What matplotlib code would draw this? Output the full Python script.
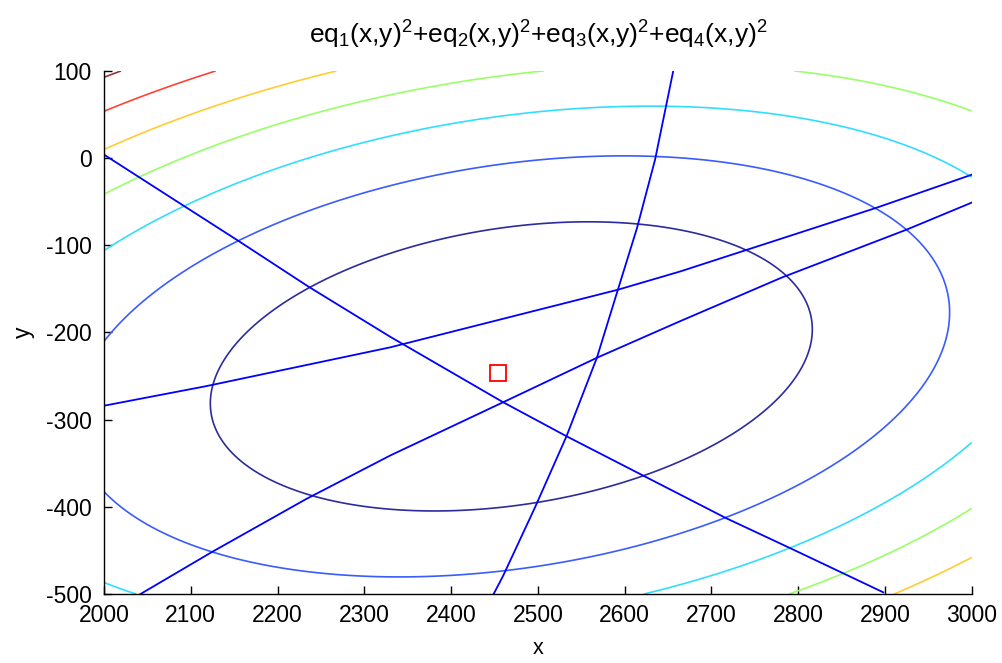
import numpy as np
import matplotlib
matplotlib.use("Agg")
import matplotlib.pyplot as plt

plt.rcParams['font.family'] = ['Liberation Sans', 'DejaVu Sans']
plt.rcParams['mathtext.fontset'] = 'custom'
plt.rcParams['mathtext.rm'] = 'Liberation Sans'
plt.rcParams['mathtext.it'] = 'Liberation Sans'
plt.rcParams['axes.unicode_minus'] = False

# ---- contour traces (level index -> points) ----
lvl1_x = [2116, 2235, 2335, 2533, 2675, 2781, 2811, 2740, 2664, 2385, 2233.5]
lvl1_y = [-280, -147, -109, -77.5, -90, -137, -200, -296, -368, -412.5, -391]
lvl2_x = [2000, 2155, 2585, 2664, 2890, 2975, 2894, 2717, 2335, 2124, 2000]
lvl2_y = [-210, -95, -2, -4, -57, -166, -322.5, -413, -485, -452, -376]
lvl3_x = [2000, 2090, 2640, 3000, 3000, 2790, 2638, 2051, 2000]
lvl3_y = [-105, -55, 55, -15, -322.5, -446.5, -500, -500, -477]
lvl4_x = [2000, 2039.5, 2387, 2531, 2808, 3000, 3000, 2792]
lvl4_y = [-42, -20.3, 80, 100, 100, 63, -397, -500]
lvl5_x = [2000, 2270, 3000, 2907.5]
lvl5_y = [9.5, 100, -452, -500]
lvl6_x = [2000, 2126]
lvl6_y = [53.4, 100]
lvl7_x = [2000, 2016]
lvl7_y = [95.4, 100]
levels = [1, 2, 3, 4, 5, 6, 7]
level_colors = ['#2c2c9c', '#3a5cff', '#33ddff', '#99ff66', '#ffcc33', '#ff4433', '#993333']

# ---- zero curves of eq1..eq4 ----
eqA_x = [2000, 2155, 2235, 2330, 2460, 2533, 2625, 2717, 2790, 2898]
eqA_y = [4, -95, -147, -205, -280, -319, -366, -413, -447, -498]
eqB_x = [2000, 2118, 2330, 2592, 2664, 2890, 3000]
eqB_y = [-284, -261.5, -217, -151, -130, -57, -19]
eqC_x = [2042, 2124, 2233, 2330, 2460, 2568, 2664, 2781, 2925, 3000]
eqC_y = [-500, -452, -391, -341, -280, -229, -187, -137, -82, -51]
eqD_x = [2449, 2460, 2496.5, 2533, 2568, 2592.5, 2614, 2635, 2656]
eqD_y = [-500, -479, -401, -319, -229, -150, -81, -2, 100]

# estimated solution
sol_x = [2454]
sol_y = [-246.6]

# ---- quadratic surface through the traced contour points ----
pts = []
for k, (xs, ys) in enumerate([(lvl1_x, lvl1_y), (lvl2_x, lvl2_y), (lvl3_x, lvl3_y),
                              (lvl4_x, lvl4_y), (lvl5_x, lvl5_y), (lvl6_x, lvl6_y),
                              (lvl7_x, lvl7_y)]):
    for x, y in zip(xs, ys):
        pts.append((x, y, levels[k]))
pts = np.array(pts, dtype=float)


def design(x, y):
    u = (x - 2500.0) / 500.0
    v = (y + 200.0) / 300.0
    return np.stack([u * u, u * v, v * v, u, v, np.ones_like(u)], axis=-1)


coef, *_ = np.linalg.lstsq(design(pts[:, 0], pts[:, 1]), pts[:, 2], rcond=None)

gx = np.linspace(2000, 3000, 401)
gy = np.linspace(-500, 100, 301)
X, Y = np.meshgrid(gx, gy)
Z = design(X, Y) @ coef

fig = plt.figure(figsize=(10.02, 6.63), dpi=100)
ax = fig.add_axes([0.1038, 0.104, 0.866, 0.789])

ax.contour(X, Y, Z, levels=levels, colors=level_colors, linewidths=1.2)
for xs, ys in [(eqA_x, eqA_y), (eqB_x, eqB_y), (eqC_x, eqC_y), (eqD_x, eqD_y)]:
    ax.plot(xs, ys, color='#0000ff', lw=1.3)
ax.plot(sol_x, sol_y, 's', ms=11.5, mfc='none', mec='#ff0000', mew=1.3)

ax.set_xlim(2000, 3000)
ax.set_ylim(-500, 100)
ax.set_xticks(np.arange(2000, 3001, 100))
ax.set_yticks(np.arange(-500, 101, 100))
for s in ['top', 'right']:
    ax.spines[s].set_visible(False)
for s in ['left', 'bottom']:
    ax.spines[s].set_linewidth(1.0)
ax.tick_params(direction='in', length=5.5, width=1.0, labelsize=16.5)
ax.tick_params(axis='y', pad=9)
ax.tick_params(axis='x', pad=7)

ax.set_xlabel('x', fontsize=15.5, labelpad=8)
ax.set_ylabel('y', fontsize=16.5, labelpad=8)
ax.set_title(r'eq$_1$(x,y)$^2$+eq$_2$(x,y)$^2$+eq$_3$(x,y)$^2$+eq$_4$(x,y)$^2$',
             fontsize=19, pad=20)

fig.savefig('out.png', dpi=100)
